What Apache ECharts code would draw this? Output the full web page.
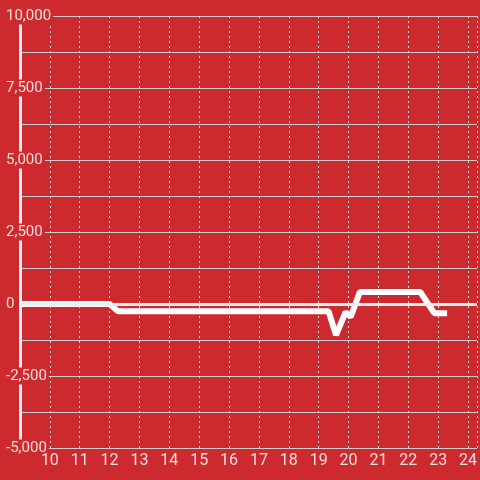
<!DOCTYPE html>
<html>
<head>
<meta charset="utf-8">
<script src="https://cdn.jsdelivr.net/npm/echarts@6/dist/echarts.min.js"></script>
<style>
  html, body { margin: 0; padding: 0; background: #cc2a2f; }
  #chart { width: 480px; height: 480px; }
</style>
</head>
<body>
<div id="chart"></div>
<script>
// 折线的点 (x, y)
var xValues = [9, 12, 12.28, 19.33, 19.58, 19.9, 20.07, 20.38, 22.4, 22.87, 23.3];
var yValues = [0, 0, -250, -250, -1080, -280, -450, 420, 420, -320, -320];

var xMin = 9, xMax = 24.3;
var yMin = -5000, yMax = 10000;

var points = [];
for (var i = 0; i < xValues.length; i++) {
    points.push([xValues[i], yValues[i]]);
}

var labelColor = '#f5dede';
var bgRed = '#cc2a2f';

var myChart = echarts.init(document.getElementById('chart'));
var option = {
    backgroundColor: bgRed,
    animation: false,
    textStyle: { fontFamily: 'Roboto' },
    grid: { left: 20, right: 0, top: 16, bottom: 32 },
    xAxis: {
        type: 'value',
        min: xMin,
        max: xMax,
        interval: 1,
        axisLine: { show: false },
        axisTick: { show: false },
        axisLabel: {
            color: labelColor,
            fontSize: 16,
            margin: 5,
            formatter: function (v) {
                return (v >= 10 && Math.abs(v - Math.round(v)) < 1e-6) ? String(v) : '';
            }
        },
        splitLine: {
            show: true,
            lineStyle: { color: '#ddd', type: [2, 3], width: 1 }
        }
    },
    yAxis: {
        type: 'value',
        min: yMin,
        max: yMax,
        interval: 2500,
        axisLine: { show: true, lineStyle: { color: '#eee', width: 3 } },
        axisTick: { show: false },
        axisLabel: {
            color: labelColor,
            fontSize: 15,
            align: 'left',
            margin: 16,
            padding: [1, 2, 1, 2],
            backgroundColor: bgRed,
            formatter: function (v) { return v.toLocaleString('en-US'); }
        },
        splitLine: { show: true, lineStyle: { color: '#ccc', width: 1 } },
        minorTick: { show: false, splitNumber: 2 },
        minorSplitLine: { show: true, lineStyle: { color: '#ccc', width: 1 } }
    },
    series: [{
        type: 'line',
        data: points,
        showSymbol: false,
        symbol: 'none',
        lineStyle: { color: '#fff', width: 6 },
        markLine: {
            silent: true,
            symbol: 'none',
            label: { show: false },
            lineStyle: { color: '#eee', width: 3, type: 'solid' },
            data: [{ yAxis: 0 }]
        },
        z: 3
    }]
};
myChart.setOption(option);
</script>
</body>
</html>
